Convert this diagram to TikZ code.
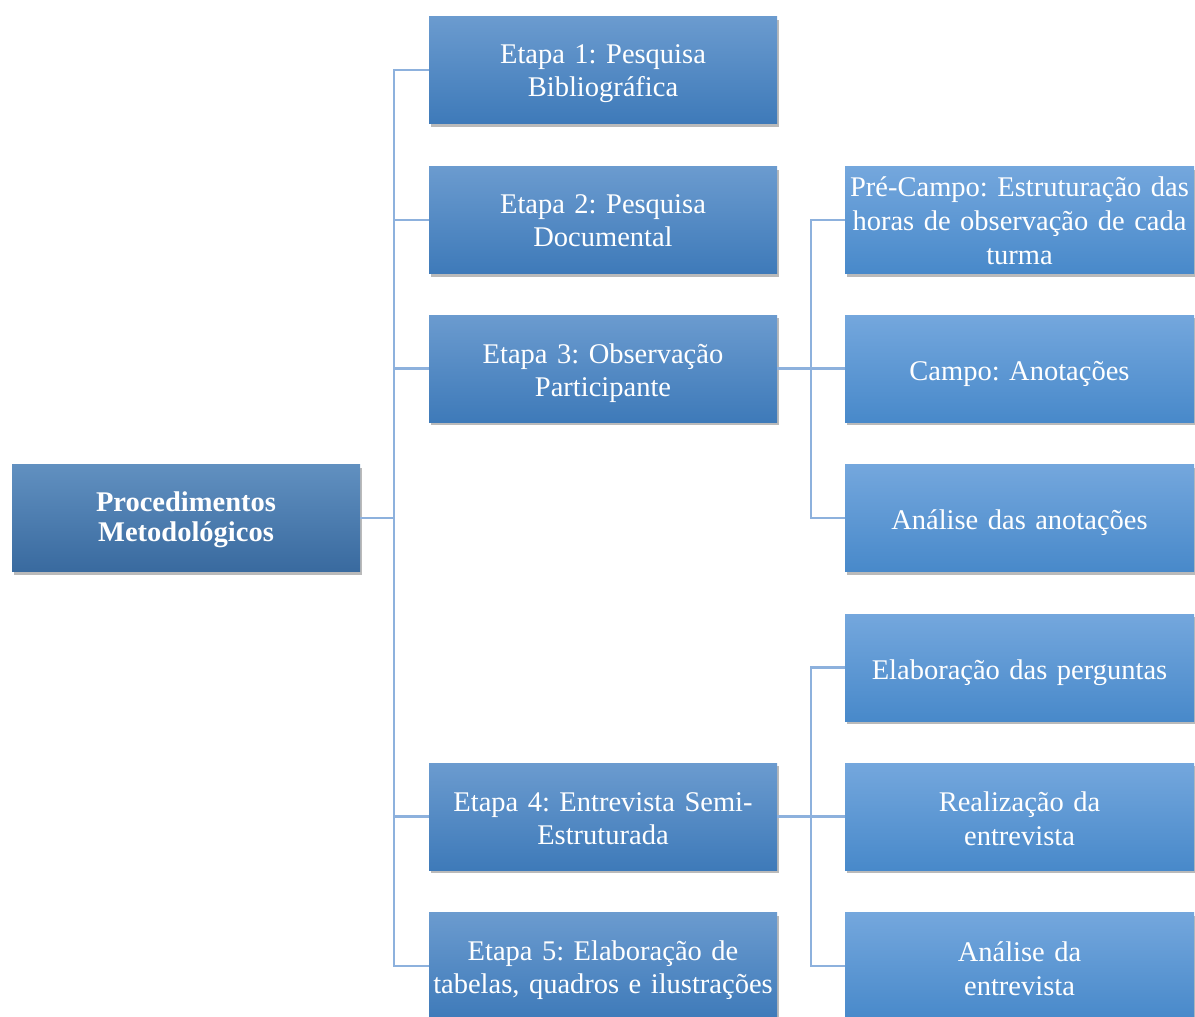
\documentclass[tikz,border=0pt]{standalone}
\usepackage{fontspec}
\setmainfont{Liberation Serif}
\usetikzlibrary{shadows}
\definecolor{rootTop}{HTML}{6190C0}
\definecolor{rootBot}{HTML}{396A9F}
\definecolor{oneTop}{HTML}{6B9BCF}
\definecolor{oneBot}{HTML}{3E7AB9}
\definecolor{twoTop}{HTML}{74A7DD}
\definecolor{twoBot}{HTML}{4889CA}
\definecolor{linkc}{HTML}{8DB1DD}
\tikzset{
  box/.style={minimum width=348pt, minimum height=107pt, inner sep=0pt,
    drop shadow={shadow xshift=2pt, shadow yshift=-3pt, opacity=0.45, fill=black!60}},
  rootbox/.style={box, top color=rootTop, bottom color=rootBot},
  onebox/.style={box, top color=oneTop, bottom color=oneBot},
  twobox/.style={box, minimum width=349pt, top color=twoTop, bottom color=twoBot},
  txt/.style={inner sep=0pt, align=center, text=white},
  roottxt/.style={txt, font=\fontsize{28.5}{30}\selectfont\bfseries\frenchspacing},
  onetxt/.style={txt, text width=346pt, font=\fontsize{28.5}{33}\selectfont\frenchspacing},
  twotxt/.style={txt, text width=348pt, font=\fontsize{28.5}{34}\selectfont\frenchspacing},
  link/.style={draw=linkc, line width=2.5pt}
}
\begin{document}
\begin{tikzpicture}[x=1pt,y=1pt]
\useasboundingbox (0,0) rectangle (1195,-1017);
\fill[white] (0,0) rectangle (1195,-1017);
\coordinate (j1) at (394,-518);
\coordinate (j2) at (811,-368.5);
\coordinate (j3) at (811,-816.5);
% boxes
\node[rootbox] (root) at (186,-518) {};
\node[onebox] (e1) at (603,-70) {};
\node[onebox] (e2) at (603,-220) {};
\node[onebox] (e3) at (603,-368.5) {};
\node[onebox] (e4) at (603,-816.5) {};
\node[onebox] (e5) at (603,-966) {};
\node[twobox] (a1) at (1019.5,-220) {};
\node[twobox] (a2) at (1019.5,-368.5) {};
\node[twobox] (a3) at (1019.5,-518) {};
\node[twobox] (b1) at (1019.5,-667.5) {};
\node[twobox] (b2) at (1019.5,-816.5) {};
\node[twobox] (b3) at (1019.5,-966) {};
% texts
\node[roottxt] (roott) at ([yshift=-2pt]root.center) {Procedimentos\\Metodológicos};
\node[onetxt] (e1t) at ([yshift=-4pt]e1.center) {Etapa 1: Pesquisa\\Bibliográfica};
\node[onetxt] (e2t) at ([yshift=-1pt]e2.center) {Etapa 2: Pesquisa\\Documental};
\node[onetxt] (e3t) at ([yshift=-5pt]e3.center) {Etapa 3: Observação\\Participante};
\node[onetxt] (e4t) at ([yshift=-2pt]e4.center) {Etapa 4: Entrevista Semi-\\Estruturada};
\node[onetxt] (e5t) at ([yshift=-4pt]e5.center) {Etapa 5: Elaboração de\\tabelas, quadros e ilustrações};
\node[twotxt] (a1t) at ([yshift=-1pt]a1.center) {Pré-Campo: Estruturação das\\horas de observação de cada\\turma};
\node[twotxt] (a2t) at ([yshift=-5pt]a2.center) {Campo: Anotações};
\node[twotxt] (a3t) at ([yshift=-5pt]a3.center) {Análise das anotações};
\node[twotxt] (b1t) at ([yshift=-5pt]b1.center) {Elaboração das perguntas};
\node[twotxt] (b2t) at ([yshift=-2pt]b2.center) {Realização da\\entrevista};
\node[twotxt] (b3t) at ([yshift=-3pt]b3.center) {Análise da\\entrevista};
% connectors
\draw[link] (root.east) -- (j1);
\foreach \n in {e1,e2,e3,e4,e5} \draw[link] (j1) |- (\n.west);
\draw[link] (e3.east) -- (j2);
\foreach \n in {a1,a2,a3} \draw[link] (j2) |- (\n.west);
\draw[link] (e4.east) -- (j3);
\foreach \n in {b1,b2,b3} \draw[link] (j3) |- (\n.west);
\end{tikzpicture}
\end{document}
